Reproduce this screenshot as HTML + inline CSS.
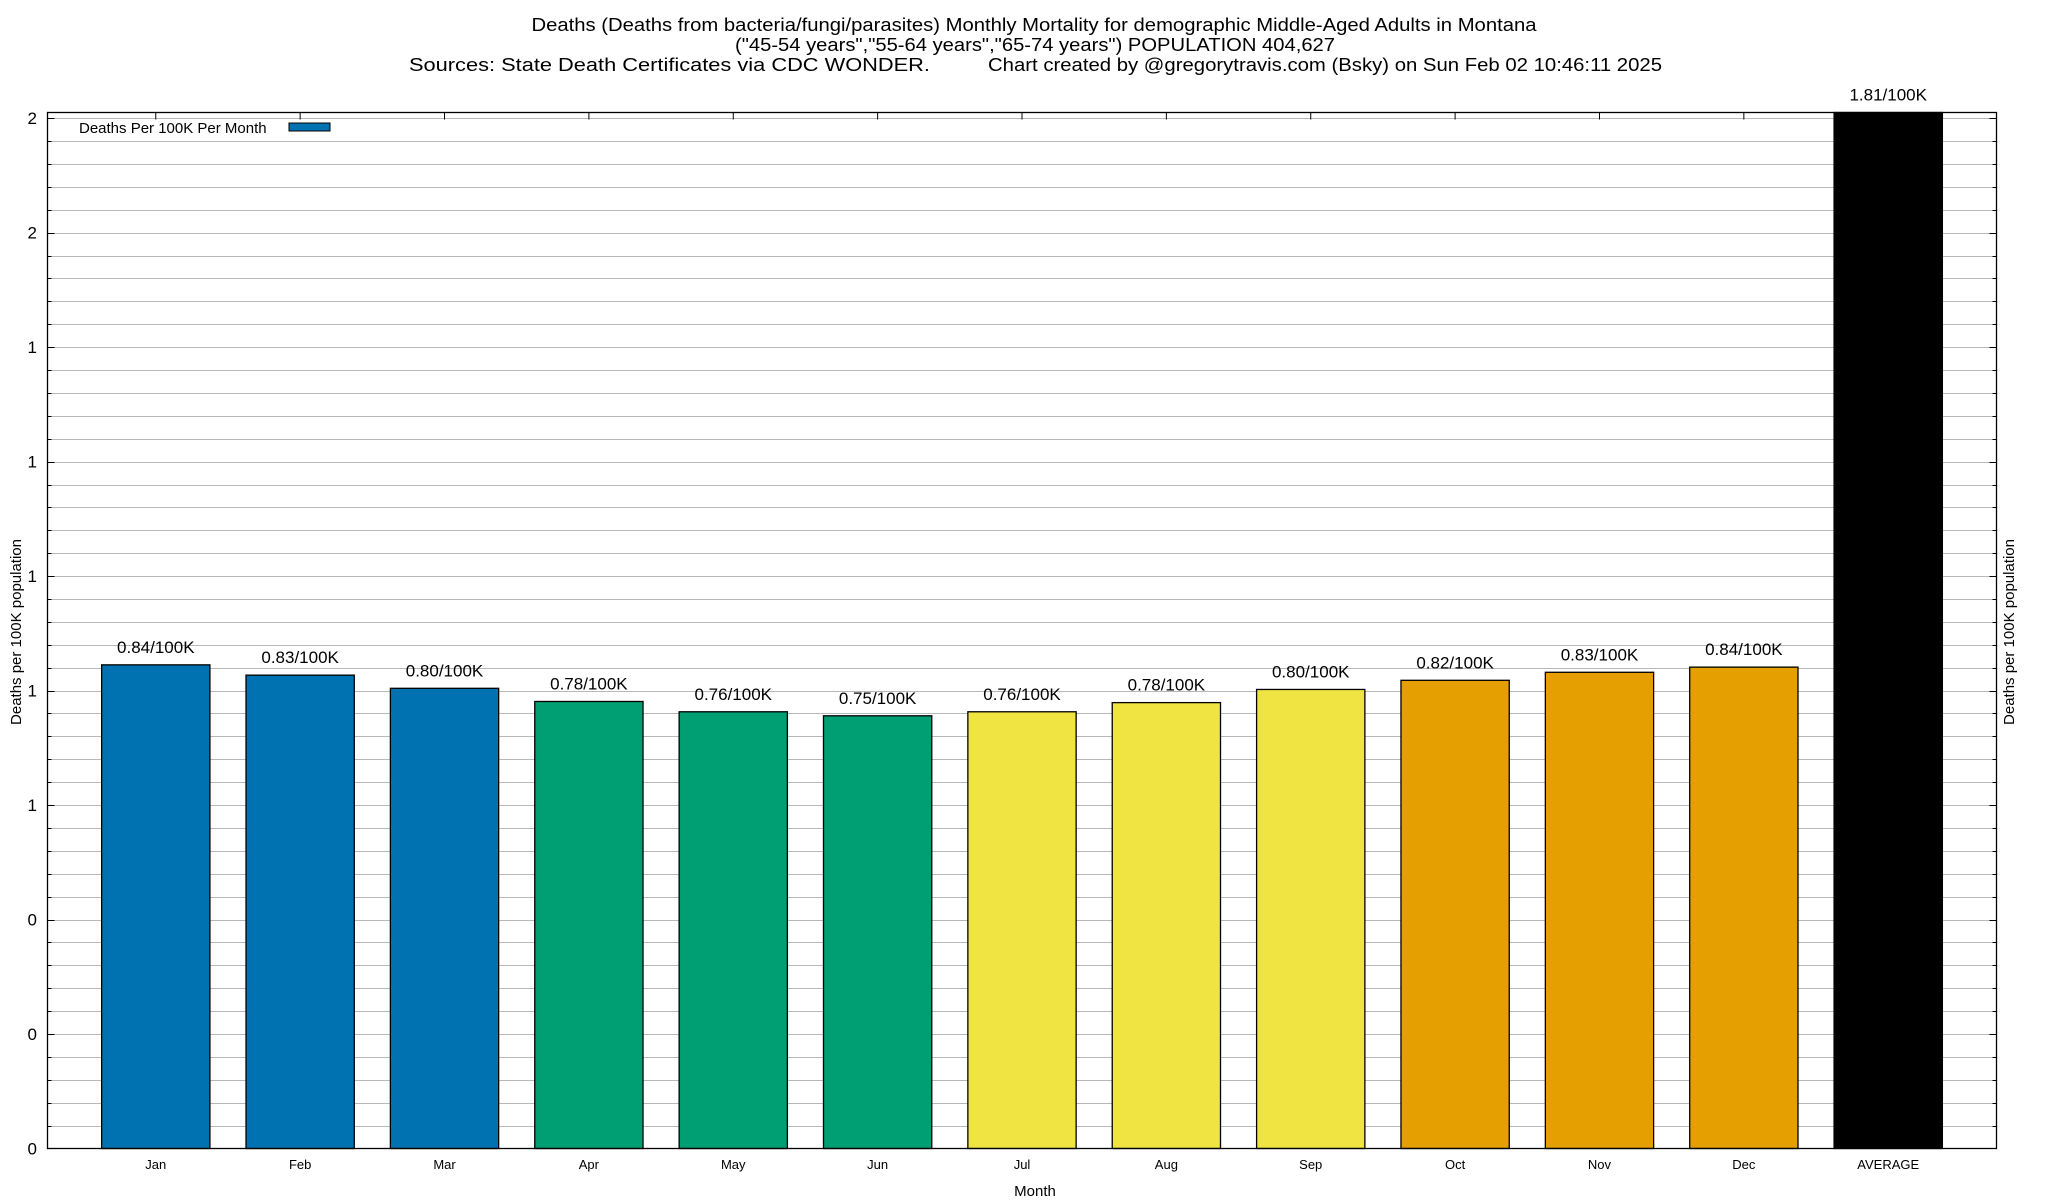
<!DOCTYPE html>
<html><head><meta charset="utf-8"><style>
html,body{margin:0;padding:0;background:#fff;}
svg{display:block;font-family:"Liberation Sans",sans-serif;}
</style></head><body>
<svg id="chart" width="2048" height="1200" viewBox="0 0 2048 1200" xmlns="http://www.w3.org/2000/svg">
<g font-size="18" fill="#000">
<text x="1034" y="31" text-anchor="middle" textLength="1005" lengthAdjust="spacingAndGlyphs">Deaths (Deaths from bacteria/fungi/parasites) Monthly Mortality for demographic Middle-Aged Adults in Montana</text>
<text x="1035" y="51" text-anchor="middle" textLength="600" lengthAdjust="spacingAndGlyphs">("45-54 years","55-64 years","65-74 years") POPULATION 404,627</text>
<text x="409" y="71" textLength="521" lengthAdjust="spacingAndGlyphs">Sources: State Death Certificates via CDC WONDER.</text>
<text x="988" y="71" textLength="674" lengthAdjust="spacingAndGlyphs">Chart created by @gregorytravis.com (Bsky) on Sun Feb 02 10:46:11 2025</text>
</g>
<g id="grid"></g>
<g id="bars"></g>
<g id="axes"></g>
<g id="legend">
<text x="79" y="133" font-size="15">Deaths Per 100K Per Month</text>
<rect x="289" y="123" width="41" height="8" fill="#0072b2" stroke="#000" stroke-width="1"/>
</g>
<text font-size="15" text-anchor="middle" transform="translate(21,632) rotate(-90)">Deaths per 100K population</text>
<text font-size="15" text-anchor="middle" transform="translate(2014,632) rotate(-90)">Deaths per 100K population</text>
<text font-size="15" x="1035" y="1196" text-anchor="middle">Month</text>
</svg>
<script>
const categories = ["Jan","Feb","Mar","Apr","May","Jun","Jul","Aug","Sep","Oct","Nov","Dec","AVERAGE"];
const values = [0.845,0.827,0.804,0.781,0.763,0.756,0.763,0.779,0.802,0.818,0.832,0.841,1.81];
const valueLabels = ["0.84/100K","0.83/100K","0.80/100K","0.78/100K","0.76/100K","0.75/100K","0.76/100K","0.78/100K","0.80/100K","0.82/100K","0.83/100K","0.84/100K","1.81/100K"];
const barColors = ["#0072b2","#0072b2","#0072b2","#009e73","#009e73","#009e73","#f0e442","#f0e442","#f0e442","#e69f00","#e69f00","#e69f00","#000000"];
const yTickValues = [0,0.2,0.4,0.6,0.8,1.0,1.2,1.4,1.6,1.8];
const yTickLabels = ["0","0","0","1","1","1","1","1","2","2"];

const NS="http://www.w3.org/2000/svg";
const L=47.5,R=1996.5,T=112.5,B=1148.5;
const yMax=1.81, xMin=-0.75, xMax=12.75;
function ys(v){return B-(v/yMax)*(B-T);}
function xs(i){return L+(i-xMin)/(xMax-xMin)*(R-L);}
function mk(tag,attrs,parent){const e=document.createElementNS(NS,tag);for(const k in attrs)e.setAttribute(k,attrs[k]);parent.appendChild(e);return e;}
const grid=document.getElementById('grid'),bars=document.getElementById('bars'),axes=document.getElementById('axes');
// grid lines every 0.04
for(let k=1;k*0.04<=yMax+1e-9;k++){
  const y=Math.round(ys(k*0.04))+0.5;
  const g=mk('line',{x1:L,x2:R,y1:y,y2:y,stroke:'#b8b8b8','stroke-width':1},grid);
  
  
  const major=(k%5===0);
  const len=major?7:4;
  const t1=mk('line',{x1:L,x2:L+len,y1:y,y2:y,stroke:'#000','stroke-width':1},axes);
  
  
  const t2=mk('line',{x1:R-len,x2:R,y1:y,y2:y,stroke:'#000','stroke-width':1},axes);
  
  
}
yTickValues.forEach((v,i)=>{
  const t=mk('text',{x:37,y:ys(v)+6,'text-anchor':'end','font-size':17},axes);
  t.textContent=yTickLabels[i];
  
  
});
const bw=0.75;
categories.forEach((c,i)=>{
  const x0=xs(i-bw/2),x1=xs(i+bw/2),y=ys(values[i]);
  const r=mk('rect',{x:x0,y:y,width:x1-x0,height:B-y,fill:barColors[i],stroke:'#000','stroke-width':1.3},bars);
  
  
  const lt=mk('text',{x:xs(i),y:y-12,'text-anchor':'middle','font-size':17},bars);
  lt.textContent=valueLabels[i];
  
  
  const xt=mk('text',{x:xs(i),y:1169,'text-anchor':'middle','font-size':13},axes);
  xt.textContent=c;
  
  
  const tk=mk('line',{x1:xs(i),x2:xs(i),y1:T,y2:T+7,stroke:'#000','stroke-width':1},axes);
  
  
});
const frame=mk('rect',{x:L,y:T,width:R-L,height:B-T,fill:'none',stroke:'#000','stroke-width':1.3},axes);


</script>
</body></html>
